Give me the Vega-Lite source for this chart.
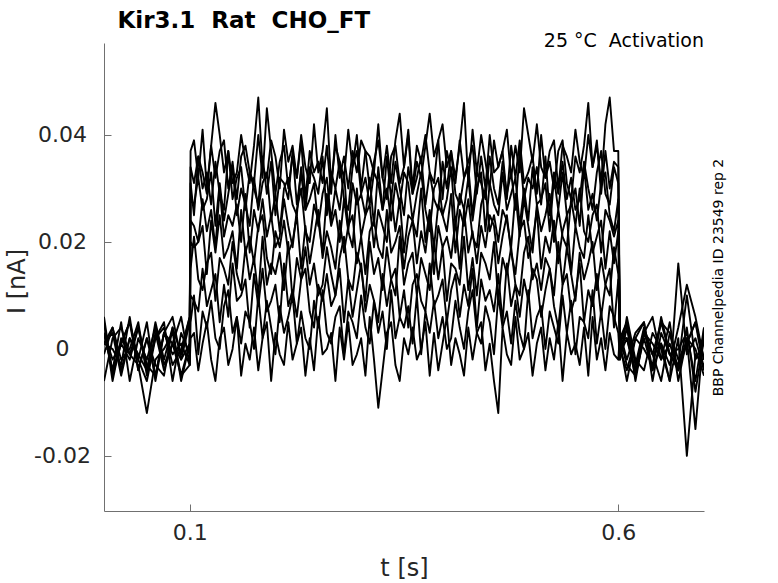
{
  "$schema": "https://vega.github.io/schema/vega-lite/v6.json",
  "width": 600,
  "height": 468,
  "autosize": {"type": "none"},
  "padding": {"left": 104, "top": 43, "right": 74, "bottom": 72},
  "background": "white",
  "data": {"values": [
    {"s":1,"t":0,"i":-0.001},{"s":1,"t":0.01,"i":0.004},{"s":1,"t":0.02,"i":-0.002},{"s":1,"t":0.03,"i":0},{"s":1,"t":0.04,"i":0.005},{"s":1,"t":0.05,"i":-0.005},{"s":1,"t":0.06,"i":0.003},{"s":1,"t":0.07,"i":-0.004},{"s":1,"t":0.08,"i":0.001},{"s":1,"t":0.09,"i":0.006},{"s":1,"t":0.1,"i":-0.003},{"s":1,"t":0.101,"i":0.002},
    {"s":1,"t":0.105,"i":0.003},{"s":1,"t":0.11,"i":-0.004},{"s":1,"t":0.115,"i":0.001},{"s":1,"t":0.12,"i":0.005},{"s":1,"t":0.125,"i":-0.002},{"s":1,"t":0.13,"i":-0.006},{"s":1,"t":0.135,"i":0.002},{"s":1,"t":0.14,"i":0.004},{"s":1,"t":0.145,"i":-0.003},{"s":1,"t":0.15,"i":0},
    {"s":1,"t":0.155,"i":0.006},{"s":1,"t":0.16,"i":-0.005},{"s":1,"t":0.165,"i":0.001},{"s":1,"t":0.17,"i":-0.002},{"s":1,"t":0.175,"i":0.004},{"s":1,"t":0.18,"i":-0.004},{"s":1,"t":0.185,"i":0.002},{"s":1,"t":0.19,"i":0.005},{"s":1,"t":0.195,"i":-0.006},{"s":1,"t":0.2,"i":0.003},
    {"s":1,"t":0.205,"i":-0.001},{"s":1,"t":0.21,"i":-0.003},{"s":1,"t":0.215,"i":0.005},{"s":1,"t":0.22,"i":-0.002},{"s":1,"t":0.225,"i":0.001},{"s":1,"t":0.23,"i":0.004},{"s":1,"t":0.235,"i":-0.005},{"s":1,"t":0.24,"i":0.002},{"s":1,"t":0.245,"i":-0.004},{"s":1,"t":0.25,"i":0.006},
    {"s":1,"t":0.255,"i":-0.001},{"s":1,"t":0.26,"i":0},{"s":1,"t":0.265,"i":0.003},{"s":1,"t":0.27,"i":-0.006},{"s":1,"t":0.275,"i":0.004},{"s":1,"t":0.28,"i":-0.002},{"s":1,"t":0.285,"i":0.005},{"s":1,"t":0.29,"i":-0.003},{"s":1,"t":0.295,"i":-0.001},{"s":1,"t":0.3,"i":0.002},
    {"s":1,"t":0.305,"i":-0.005},{"s":1,"t":0.31,"i":0.006},{"s":1,"t":0.315,"i":-0.002},{"s":1,"t":0.32,"i":-0.011},{"s":1,"t":0.325,"i":-0.004},{"s":1,"t":0.33,"i":0.003},{"s":1,"t":0.335,"i":0.005},{"s":1,"t":0.34,"i":-0.003},{"s":1,"t":0.345,"i":-0.006},{"s":1,"t":0.35,"i":0.002},
    {"s":1,"t":0.355,"i":-0.001},{"s":1,"t":0.36,"i":0.004},{"s":1,"t":0.365,"i":-0.002},{"s":1,"t":0.37,"i":0},{"s":1,"t":0.375,"i":0.005},{"s":1,"t":0.38,"i":-0.005},{"s":1,"t":0.385,"i":0.003},{"s":1,"t":0.39,"i":-0.004},{"s":1,"t":0.395,"i":0.001},{"s":1,"t":0.4,"i":0.006},
    {"s":1,"t":0.405,"i":-0.003},{"s":1,"t":0.41,"i":0.002},{"s":1,"t":0.415,"i":-0.001},{"s":1,"t":0.42,"i":-0.005},{"s":1,"t":0.425,"i":0.004},{"s":1,"t":0.43,"i":-0.002},{"s":1,"t":0.435,"i":0.003},{"s":1,"t":0.44,"i":0.005},{"s":1,"t":0.445,"i":-0.004},{"s":1,"t":0.45,"i":0.001},
    {"s":1,"t":0.455,"i":-0.006},{"s":1,"t":0.46,"i":-0.012},{"s":1,"t":0.465,"i":0.004},{"s":1,"t":0.47,"i":-0.001},{"s":1,"t":0.475,"i":-0.003},{"s":1,"t":0.48,"i":0.006},{"s":1,"t":0.485,"i":-0.002},{"s":1,"t":0.49,"i":0},{"s":1,"t":0.495,"i":0.003},{"s":1,"t":0.5,"i":-0.005},
    {"s":1,"t":0.505,"i":0.001},{"s":1,"t":0.51,"i":0.004},{"s":1,"t":0.515,"i":-0.004},{"s":1,"t":0.52,"i":0.002},{"s":1,"t":0.525,"i":-0.002},{"s":1,"t":0.53,"i":0.005},{"s":1,"t":0.535,"i":-0.006},{"s":1,"t":0.54,"i":0.003},{"s":1,"t":0.545,"i":-0.001},{"s":1,"t":0.55,"i":0.001},
    {"s":1,"t":0.555,"i":-0.003},{"s":1,"t":0.56,"i":0.004},{"s":1,"t":0.565,"i":-0.005},{"s":1,"t":0.57,"i":0.006},{"s":1,"t":0.575,"i":-0.002},{"s":1,"t":0.58,"i":0.002},{"s":1,"t":0.585,"i":-0.004},{"s":1,"t":0.59,"i":0.003},{"s":1,"t":0.595,"i":-0.001},{"s":1,"t":0.6,"i":-0.002},{"s":1,"t":0.602,"i":0.003},
    {"s":1,"t":0.61,"i":-0.002},{"s":1,"t":0.62,"i":0.003},{"s":1,"t":0.63,"i":0.005},{"s":1,"t":0.64,"i":-0.004},{"s":1,"t":0.65,"i":0.001},{"s":1,"t":0.66,"i":-0.006},{"s":1,"t":0.67,"i":0.002},{"s":1,"t":0.68,"i":-0.02},{"s":1,"t":0.69,"i":-0.001},{"s":1,"t":0.7,"i":-0.003},

    {"s":2,"t":0,"i":0.003},{"s":2,"t":0.01,"i":-0.004},{"s":2,"t":0.02,"i":0.005},{"s":2,"t":0.03,"i":-0.006},{"s":2,"t":0.04,"i":0.002},{"s":2,"t":0.05,"i":-0.002},{"s":2,"t":0.06,"i":0.004},{"s":2,"t":0.07,"i":-0.003},{"s":2,"t":0.08,"i":0.001},{"s":2,"t":0.09,"i":-0.005},{"s":2,"t":0.1,"i":-0.003},{"s":2,"t":0.101,"i":0.005},
    {"s":2,"t":0.105,"i":0.01},{"s":2,"t":0.11,"i":-0.001},{"s":2,"t":0.115,"i":0.007},{"s":2,"t":0.12,"i":0.004},{"s":2,"t":0.125,"i":0.009},{"s":2,"t":0.13,"i":0.002},{"s":2,"t":0.135,"i":0},{"s":2,"t":0.14,"i":0.008},{"s":2,"t":0.145,"i":0.011},{"s":2,"t":0.15,"i":0.003},
    {"s":2,"t":0.155,"i":0.006},{"s":2,"t":0.16,"i":0.001},{"s":2,"t":0.165,"i":0.007},{"s":2,"t":0.17,"i":0.005},{"s":2,"t":0.175,"i":0},{"s":2,"t":0.18,"i":0.01},{"s":2,"t":0.185,"i":0.002},{"s":2,"t":0.19,"i":0.009},{"s":2,"t":0.195,"i":0.004},{"s":2,"t":0.2,"i":-0.001},
    {"s":2,"t":0.205,"i":0.008},{"s":2,"t":0.21,"i":0.003},{"s":2,"t":0.215,"i":0.006},{"s":2,"t":0.22,"i":0.01},{"s":2,"t":0.225,"i":0.001},{"s":2,"t":0.23,"i":0.007},{"s":2,"t":0.235,"i":0.002},{"s":2,"t":0.24,"i":0},{"s":2,"t":0.245,"i":0.009},{"s":2,"t":0.25,"i":0.004},
    {"s":2,"t":0.255,"i":0.011},{"s":2,"t":0.26,"i":0.003},{"s":2,"t":0.265,"i":0.001},{"s":2,"t":0.27,"i":0.006},{"s":2,"t":0.275,"i":0.008},{"s":2,"t":0.28,"i":-0.001},{"s":2,"t":0.285,"i":0.007},{"s":2,"t":0.29,"i":0.005},{"s":2,"t":0.295,"i":0.002},{"s":2,"t":0.3,"i":0.01},
    {"s":2,"t":0.305,"i":0.004},{"s":2,"t":0.31,"i":0.001},{"s":2,"t":0.315,"i":0.009},{"s":2,"t":0.32,"i":0.003},{"s":2,"t":0.325,"i":0.007},{"s":2,"t":0.33,"i":0},{"s":2,"t":0.335,"i":0.011},{"s":2,"t":0.34,"i":0.002},{"s":2,"t":0.345,"i":0.006},{"s":2,"t":0.35,"i":0.004},
    {"s":2,"t":0.355,"i":0.008},{"s":2,"t":0.36,"i":0.001},{"s":2,"t":0.365,"i":0.01},{"s":2,"t":0.37,"i":-0.001},{"s":2,"t":0.375,"i":0.007},{"s":2,"t":0.38,"i":0.003},{"s":2,"t":0.385,"i":0.009},{"s":2,"t":0.39,"i":0.002},{"s":2,"t":0.395,"i":0.006},{"s":2,"t":0.4,"i":0},
    {"s":2,"t":0.405,"i":0.002},{"s":2,"t":0.41,"i":0.009},{"s":2,"t":0.415,"i":0.004},{"s":2,"t":0.42,"i":0},{"s":2,"t":0.425,"i":0.007},{"s":2,"t":0.43,"i":0.011},{"s":2,"t":0.435,"i":0.003},{"s":2,"t":0.44,"i":0.001},{"s":2,"t":0.445,"i":0.008},{"s":2,"t":0.45,"i":0.005},
    {"s":2,"t":0.455,"i":-0.001},{"s":2,"t":0.46,"i":0.01},{"s":2,"t":0.465,"i":0.004},{"s":2,"t":0.47,"i":0.007},{"s":2,"t":0.475,"i":0.001},{"s":2,"t":0.48,"i":0.009},{"s":2,"t":0.485,"i":0.003},{"s":2,"t":0.49,"i":0},{"s":2,"t":0.495,"i":0.011},{"s":2,"t":0.5,"i":0.002},
    {"s":2,"t":0.505,"i":0.006},{"s":2,"t":0.51,"i":0.008},{"s":2,"t":0.515,"i":0},{"s":2,"t":0.52,"i":0.007},{"s":2,"t":0.525,"i":0.004},{"s":2,"t":0.53,"i":0.001},{"s":2,"t":0.535,"i":0.01},{"s":2,"t":0.54,"i":0.003},{"s":2,"t":0.545,"i":0.009},{"s":2,"t":0.55,"i":-0.001},
    {"s":2,"t":0.555,"i":0.006},{"s":2,"t":0.56,"i":0.005},{"s":2,"t":0.565,"i":0.002},{"s":2,"t":0.57,"i":0.011},{"s":2,"t":0.575,"i":0.001},{"s":2,"t":0.58,"i":0.007},{"s":2,"t":0.585,"i":0},{"s":2,"t":0.59,"i":0.008},{"s":2,"t":0.595,"i":0.006},{"s":2,"t":0.6,"i":0.003},{"s":2,"t":0.602,"i":-0.002},
    {"s":2,"t":0.61,"i":0.006},{"s":2,"t":0.62,"i":-0.002},{"s":2,"t":0.63,"i":-0.004},{"s":2,"t":0.64,"i":0.003},{"s":2,"t":0.65,"i":0},{"s":2,"t":0.66,"i":-0.006},{"s":2,"t":0.67,"i":0.016},{"s":2,"t":0.68,"i":-0.001},{"s":2,"t":0.69,"i":0.002},{"s":2,"t":0.7,"i":-0.004},

    {"s":3,"t":0,"i":-0.006},{"s":3,"t":0.01,"i":0.002},{"s":3,"t":0.02,"i":0.004},{"s":3,"t":0.03,"i":-0.001},{"s":3,"t":0.04,"i":-0.003},{"s":3,"t":0.05,"i":-0.012},{"s":3,"t":0.06,"i":-0.002},{"s":3,"t":0.07,"i":0},{"s":3,"t":0.08,"i":0.003},{"s":3,"t":0.09,"i":-0.005},{"s":3,"t":0.1,"i":0.001},{"s":3,"t":0.101,"i":0.01},
    {"s":3,"t":0.105,"i":0.009},{"s":3,"t":0.11,"i":0.007},{"s":3,"t":0.115,"i":0.015},{"s":3,"t":0.12,"i":0.008},{"s":3,"t":0.125,"i":0.011},{"s":3,"t":0.13,"i":0.014},{"s":3,"t":0.135,"i":0.005},{"s":3,"t":0.14,"i":0.012},{"s":3,"t":0.145,"i":0.006},{"s":3,"t":0.15,"i":0.016},
    {"s":3,"t":0.155,"i":0.009},{"s":3,"t":0.16,"i":0.01},{"s":3,"t":0.165,"i":0.013},{"s":3,"t":0.17,"i":0.004},{"s":3,"t":0.175,"i":0.014},{"s":3,"t":0.18,"i":0.008},{"s":3,"t":0.185,"i":0.015},{"s":3,"t":0.19,"i":0.007},{"s":3,"t":0.195,"i":0.009},{"s":3,"t":0.2,"i":0.012},
    {"s":3,"t":0.205,"i":0.005},{"s":3,"t":0.21,"i":0.016},{"s":3,"t":0.215,"i":0.008},{"s":3,"t":0.22,"i":0.011},{"s":3,"t":0.225,"i":0.006},{"s":3,"t":0.23,"i":0.013},{"s":3,"t":0.235,"i":0.015},{"s":3,"t":0.24,"i":0.007},{"s":3,"t":0.245,"i":0.004},{"s":3,"t":0.25,"i":0.012},
    {"s":3,"t":0.255,"i":0.009},{"s":3,"t":0.26,"i":0.014},{"s":3,"t":0.265,"i":0.008},{"s":3,"t":0.27,"i":0.01},{"s":3,"t":0.275,"i":0.015},{"s":3,"t":0.28,"i":0.005},{"s":3,"t":0.285,"i":0.013},{"s":3,"t":0.29,"i":0.006},{"s":3,"t":0.295,"i":0.011},{"s":3,"t":0.3,"i":0.016},
    {"s":3,"t":0.305,"i":0.007},{"s":3,"t":0.31,"i":0.012},{"s":3,"t":0.315,"i":0.009},{"s":3,"t":0.32,"i":0.005},{"s":3,"t":0.325,"i":0.014},{"s":3,"t":0.33,"i":0.008},{"s":3,"t":0.335,"i":0.013},{"s":3,"t":0.34,"i":0.015},{"s":3,"t":0.345,"i":0.006},{"s":3,"t":0.35,"i":0.011},
    {"s":3,"t":0.355,"i":0.004},{"s":3,"t":0.36,"i":0.012},{"s":3,"t":0.365,"i":0.014},{"s":3,"t":0.37,"i":0.009},{"s":3,"t":0.375,"i":0.007},{"s":3,"t":0.38,"i":0.016},{"s":3,"t":0.385,"i":0.008},{"s":3,"t":0.39,"i":0.01},{"s":3,"t":0.395,"i":0.013},{"s":3,"t":0.4,"i":0.005},
    {"s":3,"t":0.405,"i":0.011},{"s":3,"t":0.41,"i":0.014},{"s":3,"t":0.415,"i":0.006},{"s":3,"t":0.42,"i":0.012},{"s":3,"t":0.425,"i":0.008},{"s":3,"t":0.43,"i":0.015},{"s":3,"t":0.435,"i":0.004},{"s":3,"t":0.44,"i":0.013},{"s":3,"t":0.445,"i":0.009},{"s":3,"t":0.45,"i":0.011},
    {"s":3,"t":0.455,"i":0.007},{"s":3,"t":0.46,"i":0.014},{"s":3,"t":0.465,"i":0.005},{"s":3,"t":0.47,"i":0.016},{"s":3,"t":0.475,"i":0.008},{"s":3,"t":0.48,"i":0.012},{"s":3,"t":0.485,"i":0.006},{"s":3,"t":0.49,"i":0.013},{"s":3,"t":0.495,"i":0.009},{"s":3,"t":0.5,"i":0.015},
    {"s":3,"t":0.505,"i":0.013},{"s":3,"t":0.51,"i":0.006},{"s":3,"t":0.515,"i":0.011},{"s":3,"t":0.52,"i":0.015},{"s":3,"t":0.525,"i":0.008},{"s":3,"t":0.53,"i":0.004},{"s":3,"t":0.535,"i":0.012},{"s":3,"t":0.54,"i":0.014},{"s":3,"t":0.545,"i":0.007},{"s":3,"t":0.55,"i":0.01},
    {"s":3,"t":0.555,"i":0.016},{"s":3,"t":0.56,"i":0.005},{"s":3,"t":0.565,"i":0.011},{"s":3,"t":0.57,"i":0.008},{"s":3,"t":0.575,"i":0.014},{"s":3,"t":0.58,"i":0.006},{"s":3,"t":0.585,"i":0.012},{"s":3,"t":0.59,"i":0.015},{"s":3,"t":0.595,"i":0.004},{"s":3,"t":0.6,"i":0.013},{"s":3,"t":0.602,"i":0.001},
    {"s":3,"t":0.61,"i":0.005},{"s":3,"t":0.62,"i":-0.006},{"s":3,"t":0.63,"i":0.003},{"s":3,"t":0.64,"i":-0.001},{"s":3,"t":0.65,"i":0.001},{"s":3,"t":0.66,"i":-0.003},{"s":3,"t":0.67,"i":0.004},{"s":3,"t":0.68,"i":0.012},{"s":3,"t":0.69,"i":0.006},{"s":3,"t":0.7,"i":-0.002},

    {"s":4,"t":0,"i":0.001},{"s":4,"t":0.01,"i":0.003},{"s":4,"t":0.02,"i":-0.005},{"s":4,"t":0.03,"i":0.002},{"s":4,"t":0.04,"i":-0.001},{"s":4,"t":0.05,"i":-0.004},{"s":4,"t":0.06,"i":0.005},{"s":4,"t":0.07,"i":-0.002},{"s":4,"t":0.08,"i":0.004},{"s":4,"t":0.09,"i":-0.006},{"s":4,"t":0.1,"i":0.001},{"s":4,"t":0.101,"i":0.015},
    {"s":4,"t":0.105,"i":0.021},{"s":4,"t":0.11,"i":0.013},{"s":4,"t":0.115,"i":0.011},{"s":4,"t":0.12,"i":0.016},{"s":4,"t":0.125,"i":0.018},{"s":4,"t":0.13,"i":0.009},{"s":4,"t":0.135,"i":0.017},{"s":4,"t":0.14,"i":0.015},{"s":4,"t":0.145,"i":0.012},{"s":4,"t":0.15,"i":0.02},
    {"s":4,"t":0.155,"i":0.014},{"s":4,"t":0.16,"i":0.011},{"s":4,"t":0.165,"i":0.019},{"s":4,"t":0.17,"i":0.013},{"s":4,"t":0.175,"i":0.017},{"s":4,"t":0.18,"i":0.01},{"s":4,"t":0.185,"i":0.021},{"s":4,"t":0.19,"i":0.012},{"s":4,"t":0.195,"i":0.016},{"s":4,"t":0.2,"i":0.014},
    {"s":4,"t":0.205,"i":0.018},{"s":4,"t":0.21,"i":0.011},{"s":4,"t":0.215,"i":0.02},{"s":4,"t":0.22,"i":0.009},{"s":4,"t":0.225,"i":0.017},{"s":4,"t":0.23,"i":0.013},{"s":4,"t":0.235,"i":0.019},{"s":4,"t":0.24,"i":0.012},{"s":4,"t":0.245,"i":0.016},{"s":4,"t":0.25,"i":0.01},
    {"s":4,"t":0.255,"i":0.012},{"s":4,"t":0.26,"i":0.019},{"s":4,"t":0.265,"i":0.014},{"s":4,"t":0.27,"i":0.01},{"s":4,"t":0.275,"i":0.017},{"s":4,"t":0.28,"i":0.021},{"s":4,"t":0.285,"i":0.013},{"s":4,"t":0.29,"i":0.011},{"s":4,"t":0.295,"i":0.018},{"s":4,"t":0.3,"i":0.015},
    {"s":4,"t":0.305,"i":0.009},{"s":4,"t":0.31,"i":0.02},{"s":4,"t":0.315,"i":0.014},{"s":4,"t":0.32,"i":0.017},{"s":4,"t":0.325,"i":0.011},{"s":4,"t":0.33,"i":0.019},{"s":4,"t":0.335,"i":0.013},{"s":4,"t":0.34,"i":0.01},{"s":4,"t":0.345,"i":0.021},{"s":4,"t":0.35,"i":0.012},
    {"s":4,"t":0.355,"i":0.016},{"s":4,"t":0.36,"i":0.018},{"s":4,"t":0.365,"i":0.01},{"s":4,"t":0.37,"i":0.017},{"s":4,"t":0.375,"i":0.014},{"s":4,"t":0.38,"i":0.011},{"s":4,"t":0.385,"i":0.02},{"s":4,"t":0.39,"i":0.013},{"s":4,"t":0.395,"i":0.019},{"s":4,"t":0.4,"i":0.009},
    {"s":4,"t":0.405,"i":0.016},{"s":4,"t":0.41,"i":0.015},{"s":4,"t":0.415,"i":0.012},{"s":4,"t":0.42,"i":0.021},{"s":4,"t":0.425,"i":0.011},{"s":4,"t":0.43,"i":0.017},{"s":4,"t":0.435,"i":0.01},{"s":4,"t":0.44,"i":0.018},{"s":4,"t":0.445,"i":0.016},{"s":4,"t":0.45,"i":0.013},
    {"s":4,"t":0.455,"i":0.02},{"s":4,"t":0.46,"i":0.009},{"s":4,"t":0.465,"i":0.017},{"s":4,"t":0.47,"i":0.014},{"s":4,"t":0.475,"i":0.019},{"s":4,"t":0.48,"i":0.012},{"s":4,"t":0.485,"i":0.01},{"s":4,"t":0.49,"i":0.018},{"s":4,"t":0.495,"i":0.021},{"s":4,"t":0.5,"i":0.013},
    {"s":4,"t":0.505,"i":0.016},{"s":4,"t":0.51,"i":0.011},{"s":4,"t":0.515,"i":0.017},{"s":4,"t":0.52,"i":0.015},{"s":4,"t":0.525,"i":0.01},{"s":4,"t":0.53,"i":0.02},{"s":4,"t":0.535,"i":0.012},{"s":4,"t":0.54,"i":0.019},{"s":4,"t":0.545,"i":0.014},{"s":4,"t":0.55,"i":0.009},
    {"s":4,"t":0.555,"i":0.018},{"s":4,"t":0.56,"i":0.013},{"s":4,"t":0.565,"i":0.016},{"s":4,"t":0.57,"i":0.02},{"s":4,"t":0.575,"i":0.011},{"s":4,"t":0.58,"i":0.017},{"s":4,"t":0.585,"i":0.012},{"s":4,"t":0.59,"i":0.01},{"s":4,"t":0.595,"i":0.019},{"s":4,"t":0.6,"i":0.014},{"s":4,"t":0.602,"i":0.002},
    {"s":4,"t":0.61,"i":0.002},{"s":4,"t":0.62,"i":-0.005},{"s":4,"t":0.63,"i":0.003},{"s":4,"t":0.64,"i":0.001},{"s":4,"t":0.65,"i":-0.002},{"s":4,"t":0.66,"i":0.005},{"s":4,"t":0.67,"i":-0.006},{"s":4,"t":0.68,"i":0.002},{"s":4,"t":0.69,"i":-0.015},{"s":4,"t":0.7,"i":0.004},

    {"s":5,"t":0,"i":0.001},{"s":5,"t":0.01,"i":0.004},{"s":5,"t":0.02,"i":-0.004},{"s":5,"t":0.03,"i":0.002},{"s":5,"t":0.04,"i":-0.002},{"s":5,"t":0.05,"i":0.005},{"s":5,"t":0.06,"i":-0.006},{"s":5,"t":0.07,"i":0.003},{"s":5,"t":0.08,"i":-0.001},{"s":5,"t":0.09,"i":0.001},{"s":5,"t":0.1,"i":-0.003},{"s":5,"t":0.101,"i":0.02},
    {"s":5,"t":0.105,"i":0.019},{"s":5,"t":0.11,"i":0.02},{"s":5,"t":0.115,"i":0.023},{"s":5,"t":0.12,"i":0.014},{"s":5,"t":0.125,"i":0.024},{"s":5,"t":0.13,"i":0.018},{"s":5,"t":0.135,"i":0.025},{"s":5,"t":0.14,"i":0.017},{"s":5,"t":0.145,"i":0.019},{"s":5,"t":0.15,"i":0.022},
    {"s":5,"t":0.155,"i":0.015},{"s":5,"t":0.16,"i":0.026},{"s":5,"t":0.165,"i":0.018},{"s":5,"t":0.17,"i":0.021},{"s":5,"t":0.175,"i":0.016},{"s":5,"t":0.18,"i":0.023},{"s":5,"t":0.185,"i":0.025},{"s":5,"t":0.19,"i":0.017},{"s":5,"t":0.195,"i":0.014},{"s":5,"t":0.2,"i":0.022},
    {"s":5,"t":0.205,"i":0.019},{"s":5,"t":0.21,"i":0.024},{"s":5,"t":0.215,"i":0.018},{"s":5,"t":0.22,"i":0.02},{"s":5,"t":0.225,"i":0.025},{"s":5,"t":0.23,"i":0.015},{"s":5,"t":0.235,"i":0.023},{"s":5,"t":0.24,"i":0.016},{"s":5,"t":0.245,"i":0.021},{"s":5,"t":0.25,"i":0.026},
    {"s":5,"t":0.255,"i":0.017},{"s":5,"t":0.26,"i":0.022},{"s":5,"t":0.265,"i":0.019},{"s":5,"t":0.27,"i":0.015},{"s":5,"t":0.275,"i":0.024},{"s":5,"t":0.28,"i":0.018},{"s":5,"t":0.285,"i":0.023},{"s":5,"t":0.29,"i":0.025},{"s":5,"t":0.295,"i":0.016},{"s":5,"t":0.3,"i":0.021},
    {"s":5,"t":0.305,"i":0.014},{"s":5,"t":0.31,"i":0.022},{"s":5,"t":0.315,"i":0.024},{"s":5,"t":0.32,"i":0.019},{"s":5,"t":0.325,"i":0.017},{"s":5,"t":0.33,"i":0.026},{"s":5,"t":0.335,"i":0.018},{"s":5,"t":0.34,"i":0.02},{"s":5,"t":0.345,"i":0.023},{"s":5,"t":0.35,"i":0.015},
    {"s":5,"t":0.355,"i":0.021},{"s":5,"t":0.36,"i":0.024},{"s":5,"t":0.365,"i":0.016},{"s":5,"t":0.37,"i":0.022},{"s":5,"t":0.375,"i":0.018},{"s":5,"t":0.38,"i":0.025},{"s":5,"t":0.385,"i":0.014},{"s":5,"t":0.39,"i":0.023},{"s":5,"t":0.395,"i":0.019},{"s":5,"t":0.4,"i":0.021},
    {"s":5,"t":0.405,"i":0.017},{"s":5,"t":0.41,"i":0.024},{"s":5,"t":0.415,"i":0.015},{"s":5,"t":0.42,"i":0.026},{"s":5,"t":0.425,"i":0.018},{"s":5,"t":0.43,"i":0.022},{"s":5,"t":0.435,"i":0.016},{"s":5,"t":0.44,"i":0.023},{"s":5,"t":0.445,"i":0.019},{"s":5,"t":0.45,"i":0.025},
    {"s":5,"t":0.455,"i":0.023},{"s":5,"t":0.46,"i":0.016},{"s":5,"t":0.465,"i":0.021},{"s":5,"t":0.47,"i":0.025},{"s":5,"t":0.475,"i":0.018},{"s":5,"t":0.48,"i":0.014},{"s":5,"t":0.485,"i":0.022},{"s":5,"t":0.49,"i":0.024},{"s":5,"t":0.495,"i":0.017},{"s":5,"t":0.5,"i":0.02},
    {"s":5,"t":0.505,"i":0.026},{"s":5,"t":0.51,"i":0.015},{"s":5,"t":0.515,"i":0.021},{"s":5,"t":0.52,"i":0.018},{"s":5,"t":0.525,"i":0.024},{"s":5,"t":0.53,"i":0.016},{"s":5,"t":0.535,"i":0.022},{"s":5,"t":0.54,"i":0.025},{"s":5,"t":0.545,"i":0.014},{"s":5,"t":0.55,"i":0.023},
    {"s":5,"t":0.555,"i":0.019},{"s":5,"t":0.56,"i":0.017},{"s":5,"t":0.565,"i":0.025},{"s":5,"t":0.57,"i":0.018},{"s":5,"t":0.575,"i":0.021},{"s":5,"t":0.58,"i":0.024},{"s":5,"t":0.585,"i":0.015},{"s":5,"t":0.59,"i":0.022},{"s":5,"t":0.595,"i":0.016},{"s":5,"t":0.6,"i":0.022},{"s":5,"t":0.602,"i":-0.001},
    {"s":5,"t":0.61,"i":0.002},{"s":5,"t":0.62,"i":-0.004},{"s":5,"t":0.63,"i":0.003},{"s":5,"t":0.64,"i":-0.001},{"s":5,"t":0.65,"i":0.005},{"s":5,"t":0.66,"i":0.003},{"s":5,"t":0.67,"i":-0.004},{"s":5,"t":0.68,"i":0.001},{"s":5,"t":0.69,"i":0.005},{"s":5,"t":0.7,"i":-0.002},

    {"s":6,"t":0,"i":0.001},{"s":6,"t":0.01,"i":0},{"s":6,"t":0.02,"i":-0.003},{"s":6,"t":0.03,"i":0.006},{"s":6,"t":0.04,"i":-0.004},{"s":6,"t":0.05,"i":0.002},{"s":6,"t":0.06,"i":-0.005},{"s":6,"t":0.07,"i":0.003},{"s":6,"t":0.08,"i":0.001},{"s":6,"t":0.09,"i":-0.002},{"s":6,"t":0.1,"i":0.005},{"s":6,"t":0.101,"i":0.024},
    {"s":6,"t":0.105,"i":0.023},{"s":6,"t":0.11,"i":0.02},{"s":6,"t":0.115,"i":0.028},{"s":6,"t":0.12,"i":0.022},{"s":6,"t":0.125,"i":0.026},{"s":6,"t":0.13,"i":0.019},{"s":6,"t":0.135,"i":0.03},{"s":6,"t":0.14,"i":0.021},{"s":6,"t":0.145,"i":0.025},{"s":6,"t":0.15,"i":0.023},
    {"s":6,"t":0.155,"i":0.027},{"s":6,"t":0.16,"i":0.02},{"s":6,"t":0.165,"i":0.029},{"s":6,"t":0.17,"i":0.018},{"s":6,"t":0.175,"i":0.026},{"s":6,"t":0.18,"i":0.022},{"s":6,"t":0.185,"i":0.028},{"s":6,"t":0.19,"i":0.021},{"s":6,"t":0.195,"i":0.025},{"s":6,"t":0.2,"i":0.019},
    {"s":6,"t":0.205,"i":0.021},{"s":6,"t":0.21,"i":0.028},{"s":6,"t":0.215,"i":0.023},{"s":6,"t":0.22,"i":0.019},{"s":6,"t":0.225,"i":0.026},{"s":6,"t":0.23,"i":0.03},{"s":6,"t":0.235,"i":0.022},{"s":6,"t":0.24,"i":0.02},{"s":6,"t":0.245,"i":0.027},{"s":6,"t":0.25,"i":0.024},
    {"s":6,"t":0.255,"i":0.018},{"s":6,"t":0.26,"i":0.029},{"s":6,"t":0.265,"i":0.023},{"s":6,"t":0.27,"i":0.026},{"s":6,"t":0.275,"i":0.02},{"s":6,"t":0.28,"i":0.028},{"s":6,"t":0.285,"i":0.022},{"s":6,"t":0.29,"i":0.019},{"s":6,"t":0.295,"i":0.03},{"s":6,"t":0.3,"i":0.021},
    {"s":6,"t":0.305,"i":0.025},{"s":6,"t":0.31,"i":0.027},{"s":6,"t":0.315,"i":0.019},{"s":6,"t":0.32,"i":0.026},{"s":6,"t":0.325,"i":0.023},{"s":6,"t":0.33,"i":0.02},{"s":6,"t":0.335,"i":0.029},{"s":6,"t":0.34,"i":0.022},{"s":6,"t":0.345,"i":0.028},{"s":6,"t":0.35,"i":0.018},
    {"s":6,"t":0.355,"i":0.025},{"s":6,"t":0.36,"i":0.024},{"s":6,"t":0.365,"i":0.021},{"s":6,"t":0.37,"i":0.03},{"s":6,"t":0.375,"i":0.02},{"s":6,"t":0.38,"i":0.026},{"s":6,"t":0.385,"i":0.019},{"s":6,"t":0.39,"i":0.027},{"s":6,"t":0.395,"i":0.025},{"s":6,"t":0.4,"i":0.022},
    {"s":6,"t":0.405,"i":0.029},{"s":6,"t":0.41,"i":0.018},{"s":6,"t":0.415,"i":0.026},{"s":6,"t":0.42,"i":0.023},{"s":6,"t":0.425,"i":0.028},{"s":6,"t":0.43,"i":0.021},{"s":6,"t":0.435,"i":0.019},{"s":6,"t":0.44,"i":0.027},{"s":6,"t":0.445,"i":0.03},{"s":6,"t":0.45,"i":0.022},
    {"s":6,"t":0.455,"i":0.025},{"s":6,"t":0.46,"i":0.02},{"s":6,"t":0.465,"i":0.026},{"s":6,"t":0.47,"i":0.024},{"s":6,"t":0.475,"i":0.019},{"s":6,"t":0.48,"i":0.029},{"s":6,"t":0.485,"i":0.021},{"s":6,"t":0.49,"i":0.028},{"s":6,"t":0.495,"i":0.023},{"s":6,"t":0.5,"i":0.018},
    {"s":6,"t":0.505,"i":0.027},{"s":6,"t":0.51,"i":0.022},{"s":6,"t":0.515,"i":0.025},{"s":6,"t":0.52,"i":0.029},{"s":6,"t":0.525,"i":0.02},{"s":6,"t":0.53,"i":0.026},{"s":6,"t":0.535,"i":0.021},{"s":6,"t":0.54,"i":0.019},{"s":6,"t":0.545,"i":0.028},{"s":6,"t":0.55,"i":0.023},
    {"s":6,"t":0.555,"i":0.03},{"s":6,"t":0.56,"i":0.022},{"s":6,"t":0.565,"i":0.02},{"s":6,"t":0.57,"i":0.025},{"s":6,"t":0.575,"i":0.027},{"s":6,"t":0.58,"i":0.018},{"s":6,"t":0.585,"i":0.026},{"s":6,"t":0.59,"i":0.024},{"s":6,"t":0.595,"i":0.021},{"s":6,"t":0.6,"i":0.024},{"s":6,"t":0.602,"i":0.002},
    {"s":6,"t":0.61,"i":-0.003},{"s":6,"t":0.62,"i":-0.005},{"s":6,"t":0.63,"i":0.003},{"s":6,"t":0.64,"i":0.006},{"s":6,"t":0.65,"i":-0.002},{"s":6,"t":0.66,"i":0.001},{"s":6,"t":0.67,"i":-0.004},{"s":6,"t":0.68,"i":0.002},{"s":6,"t":0.69,"i":0},{"s":6,"t":0.7,"i":-0.005},

    {"s":7,"t":0,"i":0.003},{"s":7,"t":0.01,"i":-0.004},{"s":7,"t":0.02,"i":0.001},{"s":7,"t":0.03,"i":0.005},{"s":7,"t":0.04,"i":-0.002},{"s":7,"t":0.05,"i":-0.006},{"s":7,"t":0.06,"i":0.002},{"s":7,"t":0.07,"i":0.004},{"s":7,"t":0.08,"i":-0.003},{"s":7,"t":0.09,"i":0},{"s":7,"t":0.1,"i":0.006},{"s":7,"t":0.101,"i":0.028},
    {"s":7,"t":0.105,"i":0.027},{"s":7,"t":0.11,"i":0.032},{"s":7,"t":0.115,"i":0.026},{"s":7,"t":0.12,"i":0.028},{"s":7,"t":0.125,"i":0.033},{"s":7,"t":0.13,"i":0.023},{"s":7,"t":0.135,"i":0.031},{"s":7,"t":0.14,"i":0.024},{"s":7,"t":0.145,"i":0.029},{"s":7,"t":0.15,"i":0.034},
    {"s":7,"t":0.155,"i":0.025},{"s":7,"t":0.16,"i":0.03},{"s":7,"t":0.165,"i":0.027},{"s":7,"t":0.17,"i":0.023},{"s":7,"t":0.175,"i":0.032},{"s":7,"t":0.18,"i":0.026},{"s":7,"t":0.185,"i":0.031},{"s":7,"t":0.19,"i":0.033},{"s":7,"t":0.195,"i":0.024},{"s":7,"t":0.2,"i":0.029},
    {"s":7,"t":0.205,"i":0.022},{"s":7,"t":0.21,"i":0.03},{"s":7,"t":0.215,"i":0.032},{"s":7,"t":0.22,"i":0.027},{"s":7,"t":0.225,"i":0.025},{"s":7,"t":0.23,"i":0.034},{"s":7,"t":0.235,"i":0.026},{"s":7,"t":0.24,"i":0.028},{"s":7,"t":0.245,"i":0.031},{"s":7,"t":0.25,"i":0.023},
    {"s":7,"t":0.255,"i":0.029},{"s":7,"t":0.26,"i":0.032},{"s":7,"t":0.265,"i":0.024},{"s":7,"t":0.27,"i":0.03},{"s":7,"t":0.275,"i":0.026},{"s":7,"t":0.28,"i":0.033},{"s":7,"t":0.285,"i":0.022},{"s":7,"t":0.29,"i":0.031},{"s":7,"t":0.295,"i":0.027},{"s":7,"t":0.3,"i":0.029},
    {"s":7,"t":0.305,"i":0.025},{"s":7,"t":0.31,"i":0.032},{"s":7,"t":0.315,"i":0.023},{"s":7,"t":0.32,"i":0.034},{"s":7,"t":0.325,"i":0.026},{"s":7,"t":0.33,"i":0.03},{"s":7,"t":0.335,"i":0.024},{"s":7,"t":0.34,"i":0.031},{"s":7,"t":0.345,"i":0.027},{"s":7,"t":0.35,"i":0.033},
    {"s":7,"t":0.355,"i":0.031},{"s":7,"t":0.36,"i":0.024},{"s":7,"t":0.365,"i":0.029},{"s":7,"t":0.37,"i":0.033},{"s":7,"t":0.375,"i":0.026},{"s":7,"t":0.38,"i":0.022},{"s":7,"t":0.385,"i":0.03},{"s":7,"t":0.39,"i":0.032},{"s":7,"t":0.395,"i":0.025},{"s":7,"t":0.4,"i":0.028},
    {"s":7,"t":0.405,"i":0.034},{"s":7,"t":0.41,"i":0.023},{"s":7,"t":0.415,"i":0.029},{"s":7,"t":0.42,"i":0.026},{"s":7,"t":0.425,"i":0.032},{"s":7,"t":0.43,"i":0.024},{"s":7,"t":0.435,"i":0.03},{"s":7,"t":0.44,"i":0.033},{"s":7,"t":0.445,"i":0.022},{"s":7,"t":0.45,"i":0.031},
    {"s":7,"t":0.455,"i":0.027},{"s":7,"t":0.46,"i":0.025},{"s":7,"t":0.465,"i":0.033},{"s":7,"t":0.47,"i":0.026},{"s":7,"t":0.475,"i":0.029},{"s":7,"t":0.48,"i":0.032},{"s":7,"t":0.485,"i":0.023},{"s":7,"t":0.49,"i":0.03},{"s":7,"t":0.495,"i":0.024},{"s":7,"t":0.5,"i":0.034},
    {"s":7,"t":0.505,"i":0.027},{"s":7,"t":0.51,"i":0.028},{"s":7,"t":0.515,"i":0.031},{"s":7,"t":0.52,"i":0.022},{"s":7,"t":0.525,"i":0.032},{"s":7,"t":0.53,"i":0.026},{"s":7,"t":0.535,"i":0.033},{"s":7,"t":0.54,"i":0.025},{"s":7,"t":0.545,"i":0.027},{"s":7,"t":0.55,"i":0.03},
    {"s":7,"t":0.555,"i":0.023},{"s":7,"t":0.56,"i":0.034},{"s":7,"t":0.565,"i":0.026},{"s":7,"t":0.57,"i":0.029},{"s":7,"t":0.575,"i":0.024},{"s":7,"t":0.58,"i":0.031},{"s":7,"t":0.585,"i":0.033},{"s":7,"t":0.59,"i":0.025},{"s":7,"t":0.595,"i":0.022},{"s":7,"t":0.6,"i":0.028},{"s":7,"t":0.602,"i":0},
    {"s":7,"t":0.61,"i":-0.004},{"s":7,"t":0.62,"i":0.002},{"s":7,"t":0.63,"i":0.005},{"s":7,"t":0.64,"i":-0.006},{"s":7,"t":0.65,"i":0.003},{"s":7,"t":0.66,"i":-0.001},{"s":7,"t":0.67,"i":-0.003},{"s":7,"t":0.68,"i":0.01},{"s":7,"t":0.69,"i":-0.002},{"s":7,"t":0.7,"i":0.001},

    {"s":8,"t":0,"i":0.003},{"s":8,"t":0.01,"i":-0.002},{"s":8,"t":0.02,"i":0.001},{"s":8,"t":0.03,"i":0.005},{"s":8,"t":0.04,"i":-0.004},{"s":8,"t":0.05,"i":0.002},{"s":8,"t":0.06,"i":-0.003},{"s":8,"t":0.07,"i":-0.005},{"s":8,"t":0.08,"i":0.004},{"s":8,"t":0.09,"i":-0.001},{"s":8,"t":0.1,"i":0.006},{"s":8,"t":0.101,"i":0.031},
    {"s":8,"t":0.105,"i":0.025},{"s":8,"t":0.11,"i":0.036},{"s":8,"t":0.115,"i":0.03},{"s":8,"t":0.12,"i":0.033},{"s":8,"t":0.125,"i":0.027},{"s":8,"t":0.13,"i":0.035},{"s":8,"t":0.135,"i":0.029},{"s":8,"t":0.14,"i":0.026},{"s":8,"t":0.145,"i":0.037},{"s":8,"t":0.15,"i":0.028},
    {"s":8,"t":0.155,"i":0.032},{"s":8,"t":0.16,"i":0.034},{"s":8,"t":0.165,"i":0.026},{"s":8,"t":0.17,"i":0.033},{"s":8,"t":0.175,"i":0.03},{"s":8,"t":0.18,"i":0.027},{"s":8,"t":0.185,"i":0.036},{"s":8,"t":0.19,"i":0.029},{"s":8,"t":0.195,"i":0.035},{"s":8,"t":0.2,"i":0.025},
    {"s":8,"t":0.205,"i":0.032},{"s":8,"t":0.21,"i":0.031},{"s":8,"t":0.215,"i":0.028},{"s":8,"t":0.22,"i":0.037},{"s":8,"t":0.225,"i":0.027},{"s":8,"t":0.23,"i":0.033},{"s":8,"t":0.235,"i":0.026},{"s":8,"t":0.24,"i":0.034},{"s":8,"t":0.245,"i":0.032},{"s":8,"t":0.25,"i":0.029},
    {"s":8,"t":0.255,"i":0.036},{"s":8,"t":0.26,"i":0.025},{"s":8,"t":0.265,"i":0.033},{"s":8,"t":0.27,"i":0.03},{"s":8,"t":0.275,"i":0.035},{"s":8,"t":0.28,"i":0.028},{"s":8,"t":0.285,"i":0.026},{"s":8,"t":0.29,"i":0.034},{"s":8,"t":0.295,"i":0.037},{"s":8,"t":0.3,"i":0.029},
    {"s":8,"t":0.305,"i":0.032},{"s":8,"t":0.31,"i":0.027},{"s":8,"t":0.315,"i":0.033},{"s":8,"t":0.32,"i":0.031},{"s":8,"t":0.325,"i":0.026},{"s":8,"t":0.33,"i":0.036},{"s":8,"t":0.335,"i":0.028},{"s":8,"t":0.34,"i":0.035},{"s":8,"t":0.345,"i":0.03},{"s":8,"t":0.35,"i":0.025},
    {"s":8,"t":0.355,"i":0.034},{"s":8,"t":0.36,"i":0.029},{"s":8,"t":0.365,"i":0.032},{"s":8,"t":0.37,"i":0.036},{"s":8,"t":0.375,"i":0.027},{"s":8,"t":0.38,"i":0.033},{"s":8,"t":0.385,"i":0.028},{"s":8,"t":0.39,"i":0.026},{"s":8,"t":0.395,"i":0.035},{"s":8,"t":0.4,"i":0.03},
    {"s":8,"t":0.405,"i":0.037},{"s":8,"t":0.41,"i":0.029},{"s":8,"t":0.415,"i":0.027},{"s":8,"t":0.42,"i":0.032},{"s":8,"t":0.425,"i":0.034},{"s":8,"t":0.43,"i":0.025},{"s":8,"t":0.435,"i":0.033},{"s":8,"t":0.44,"i":0.031},{"s":8,"t":0.445,"i":0.028},{"s":8,"t":0.45,"i":0.036},
    {"s":8,"t":0.455,"i":0.03},{"s":8,"t":0.46,"i":0.027},{"s":8,"t":0.465,"i":0.035},{"s":8,"t":0.47,"i":0.029},{"s":8,"t":0.475,"i":0.033},{"s":8,"t":0.48,"i":0.026},{"s":8,"t":0.485,"i":0.037},{"s":8,"t":0.49,"i":0.028},{"s":8,"t":0.495,"i":0.032},{"s":8,"t":0.5,"i":0.03},
    {"s":8,"t":0.505,"i":0.034},{"s":8,"t":0.51,"i":0.027},{"s":8,"t":0.515,"i":0.036},{"s":8,"t":0.52,"i":0.025},{"s":8,"t":0.525,"i":0.033},{"s":8,"t":0.53,"i":0.029},{"s":8,"t":0.535,"i":0.035},{"s":8,"t":0.54,"i":0.028},{"s":8,"t":0.545,"i":0.032},{"s":8,"t":0.55,"i":0.026},
    {"s":8,"t":0.555,"i":0.028},{"s":8,"t":0.56,"i":0.035},{"s":8,"t":0.565,"i":0.03},{"s":8,"t":0.57,"i":0.026},{"s":8,"t":0.575,"i":0.033},{"s":8,"t":0.58,"i":0.037},{"s":8,"t":0.585,"i":0.029},{"s":8,"t":0.59,"i":0.027},{"s":8,"t":0.595,"i":0.034},{"s":8,"t":0.6,"i":0.031},{"s":8,"t":0.602,"i":0.001},
    {"s":8,"t":0.61,"i":-0.006},{"s":8,"t":0.62,"i":0.002},{"s":8,"t":0.63,"i":0},{"s":8,"t":0.64,"i":-0.003},{"s":8,"t":0.65,"i":0.005},{"s":8,"t":0.66,"i":-0.001},{"s":8,"t":0.67,"i":-0.004},{"s":8,"t":0.68,"i":0.004},{"s":8,"t":0.69,"i":-0.008},{"s":8,"t":0.7,"i":0.002},

    {"s":9,"t":0,"i":0.006},{"s":9,"t":0.01,"i":-0.005},{"s":9,"t":0.02,"i":0.001},{"s":9,"t":0.03,"i":-0.002},{"s":9,"t":0.04,"i":0.004},{"s":9,"t":0.05,"i":-0.004},{"s":9,"t":0.06,"i":0.002},{"s":9,"t":0.07,"i":0.005},{"s":9,"t":0.08,"i":-0.006},{"s":9,"t":0.09,"i":0.003},{"s":9,"t":0.1,"i":-0.001},{"s":9,"t":0.101,"i":0.034},
    {"s":9,"t":0.105,"i":0.031},{"s":9,"t":0.11,"i":0.036},{"s":9,"t":0.115,"i":0.033},{"s":9,"t":0.12,"i":0.029},{"s":9,"t":0.125,"i":0.038},{"s":9,"t":0.13,"i":0.032},{"s":9,"t":0.135,"i":0.037},{"s":9,"t":0.14,"i":0.039},{"s":9,"t":0.145,"i":0.03},{"s":9,"t":0.15,"i":0.035},
    {"s":9,"t":0.155,"i":0.028},{"s":9,"t":0.16,"i":0.036},{"s":9,"t":0.165,"i":0.038},{"s":9,"t":0.17,"i":0.033},{"s":9,"t":0.175,"i":0.031},{"s":9,"t":0.18,"i":0.04},{"s":9,"t":0.185,"i":0.032},{"s":9,"t":0.19,"i":0.045},{"s":9,"t":0.195,"i":0.037},{"s":9,"t":0.2,"i":0.029},
    {"s":9,"t":0.205,"i":0.035},{"s":9,"t":0.21,"i":0.038},{"s":9,"t":0.215,"i":0.03},{"s":9,"t":0.22,"i":0.036},{"s":9,"t":0.225,"i":0.032},{"s":9,"t":0.23,"i":0.039},{"s":9,"t":0.235,"i":0.028},{"s":9,"t":0.24,"i":0.037},{"s":9,"t":0.245,"i":0.033},{"s":9,"t":0.25,"i":0.035},
    {"s":9,"t":0.255,"i":0.031},{"s":9,"t":0.26,"i":0.038},{"s":9,"t":0.265,"i":0.029},{"s":9,"t":0.27,"i":0.04},{"s":9,"t":0.275,"i":0.032},{"s":9,"t":0.28,"i":0.036},{"s":9,"t":0.285,"i":0.03},{"s":9,"t":0.29,"i":0.037},{"s":9,"t":0.295,"i":0.033},{"s":9,"t":0.3,"i":0.039},
    {"s":9,"t":0.305,"i":0.037},{"s":9,"t":0.31,"i":0.03},{"s":9,"t":0.315,"i":0.035},{"s":9,"t":0.32,"i":0.039},{"s":9,"t":0.325,"i":0.032},{"s":9,"t":0.33,"i":0.028},{"s":9,"t":0.335,"i":0.036},{"s":9,"t":0.34,"i":0.038},{"s":9,"t":0.345,"i":0.031},{"s":9,"t":0.35,"i":0.034},
    {"s":9,"t":0.355,"i":0.04},{"s":9,"t":0.36,"i":0.029},{"s":9,"t":0.365,"i":0.035},{"s":9,"t":0.37,"i":0.032},{"s":9,"t":0.375,"i":0.038},{"s":9,"t":0.38,"i":0.044},{"s":9,"t":0.385,"i":0.036},{"s":9,"t":0.39,"i":0.039},{"s":9,"t":0.395,"i":0.028},{"s":9,"t":0.4,"i":0.037},
    {"s":9,"t":0.405,"i":0.033},{"s":9,"t":0.41,"i":0.031},{"s":9,"t":0.415,"i":0.039},{"s":9,"t":0.42,"i":0.032},{"s":9,"t":0.425,"i":0.035},{"s":9,"t":0.43,"i":0.038},{"s":9,"t":0.435,"i":0.029},{"s":9,"t":0.44,"i":0.036},{"s":9,"t":0.445,"i":0.03},{"s":9,"t":0.45,"i":0.04},
    {"s":9,"t":0.455,"i":0.033},{"s":9,"t":0.46,"i":0.034},{"s":9,"t":0.465,"i":0.037},{"s":9,"t":0.47,"i":0.028},{"s":9,"t":0.475,"i":0.038},{"s":9,"t":0.48,"i":0.032},{"s":9,"t":0.485,"i":0.039},{"s":9,"t":0.49,"i":0.031},{"s":9,"t":0.495,"i":0.033},{"s":9,"t":0.5,"i":0.036},
    {"s":9,"t":0.505,"i":0.029},{"s":9,"t":0.51,"i":0.04},{"s":9,"t":0.515,"i":0.032},{"s":9,"t":0.52,"i":0.035},{"s":9,"t":0.525,"i":0.03},{"s":9,"t":0.53,"i":0.037},{"s":9,"t":0.535,"i":0.039},{"s":9,"t":0.54,"i":0.031},{"s":9,"t":0.545,"i":0.028},{"s":9,"t":0.55,"i":0.036},
    {"s":9,"t":0.555,"i":0.033},{"s":9,"t":0.56,"i":0.038},{"s":9,"t":0.565,"i":0.046},{"s":9,"t":0.57,"i":0.034},{"s":9,"t":0.575,"i":0.039},{"s":9,"t":0.58,"i":0.029},{"s":9,"t":0.585,"i":0.037},{"s":9,"t":0.59,"i":0.03},{"s":9,"t":0.595,"i":0.035},{"s":9,"t":0.6,"i":0.034},{"s":9,"t":0.602,"i":-0.002},
    {"s":9,"t":0.61,"i":0.004},{"s":9,"t":0.62,"i":-0.005},{"s":9,"t":0.63,"i":0.002},{"s":9,"t":0.64,"i":-0.004},{"s":9,"t":0.65,"i":0.006},{"s":9,"t":0.66,"i":-0.001},{"s":9,"t":0.67,"i":0},{"s":9,"t":0.68,"i":0.003},{"s":9,"t":0.69,"i":-0.006},{"s":9,"t":0.7,"i":0.004},

    {"s":10,"t":0,"i":0.005},{"s":10,"t":0.01,"i":-0.006},{"s":10,"t":0.02,"i":0.002},{"s":10,"t":0.03,"i":-0.001},{"s":10,"t":0.04,"i":0.004},{"s":10,"t":0.05,"i":-0.003},{"s":10,"t":0.06,"i":-0.005},{"s":10,"t":0.07,"i":0.003},{"s":10,"t":0.08,"i":0.006},{"s":10,"t":0.09,"i":-0.002},{"s":10,"t":0.1,"i":0.001},{"s":10,"t":0.101,"i":0.037},
    {"s":10,"t":0.105,"i":0.039},{"s":10,"t":0.11,"i":0.032},{"s":10,"t":0.115,"i":0.041},{"s":10,"t":0.12,"i":0.03},{"s":10,"t":0.125,"i":0.038},{"s":10,"t":0.13,"i":0.046},{"s":10,"t":0.135,"i":0.04},{"s":10,"t":0.14,"i":0.033},{"s":10,"t":0.145,"i":0.037},{"s":10,"t":0.15,"i":0.031},
    {"s":10,"t":0.155,"i":0.033},{"s":10,"t":0.16,"i":0.04},{"s":10,"t":0.165,"i":0.035},{"s":10,"t":0.17,"i":0.031},{"s":10,"t":0.175,"i":0.038},{"s":10,"t":0.18,"i":0.047},{"s":10,"t":0.185,"i":0.034},{"s":10,"t":0.19,"i":0.032},{"s":10,"t":0.195,"i":0.039},{"s":10,"t":0.2,"i":0.036},
    {"s":10,"t":0.205,"i":0.03},{"s":10,"t":0.21,"i":0.041},{"s":10,"t":0.215,"i":0.035},{"s":10,"t":0.22,"i":0.038},{"s":10,"t":0.225,"i":0.032},{"s":10,"t":0.23,"i":0.04},{"s":10,"t":0.235,"i":0.034},{"s":10,"t":0.24,"i":0.031},{"s":10,"t":0.245,"i":0.042},{"s":10,"t":0.25,"i":0.033},
    {"s":10,"t":0.255,"i":0.037},{"s":10,"t":0.26,"i":0.045},{"s":10,"t":0.265,"i":0.031},{"s":10,"t":0.27,"i":0.038},{"s":10,"t":0.275,"i":0.035},{"s":10,"t":0.28,"i":0.032},{"s":10,"t":0.285,"i":0.041},{"s":10,"t":0.29,"i":0.034},{"s":10,"t":0.295,"i":0.04},{"s":10,"t":0.3,"i":0.03},
    {"s":10,"t":0.305,"i":0.037},{"s":10,"t":0.31,"i":0.036},{"s":10,"t":0.315,"i":0.033},{"s":10,"t":0.32,"i":0.042},{"s":10,"t":0.325,"i":0.032},{"s":10,"t":0.33,"i":0.038},{"s":10,"t":0.335,"i":0.031},{"s":10,"t":0.34,"i":0.039},{"s":10,"t":0.345,"i":0.044},{"s":10,"t":0.35,"i":0.034},
    {"s":10,"t":0.355,"i":0.041},{"s":10,"t":0.36,"i":0.03},{"s":10,"t":0.365,"i":0.038},{"s":10,"t":0.37,"i":0.035},{"s":10,"t":0.375,"i":0.04},{"s":10,"t":0.38,"i":0.033},{"s":10,"t":0.385,"i":0.031},{"s":10,"t":0.39,"i":0.039},{"s":10,"t":0.395,"i":0.042},{"s":10,"t":0.4,"i":0.034},
    {"s":10,"t":0.405,"i":0.037},{"s":10,"t":0.41,"i":0.032},{"s":10,"t":0.415,"i":0.038},{"s":10,"t":0.42,"i":0.046},{"s":10,"t":0.425,"i":0.031},{"s":10,"t":0.43,"i":0.041},{"s":10,"t":0.435,"i":0.033},{"s":10,"t":0.44,"i":0.04},{"s":10,"t":0.445,"i":0.035},{"s":10,"t":0.45,"i":0.03},
    {"s":10,"t":0.455,"i":0.039},{"s":10,"t":0.46,"i":0.034},{"s":10,"t":0.465,"i":0.037},{"s":10,"t":0.47,"i":0.041},{"s":10,"t":0.475,"i":0.032},{"s":10,"t":0.48,"i":0.038},{"s":10,"t":0.485,"i":0.033},{"s":10,"t":0.49,"i":0.045},{"s":10,"t":0.495,"i":0.04},{"s":10,"t":0.5,"i":0.035},
    {"s":10,"t":0.505,"i":0.042},{"s":10,"t":0.51,"i":0.034},{"s":10,"t":0.515,"i":0.032},{"s":10,"t":0.52,"i":0.037},{"s":10,"t":0.525,"i":0.039},{"s":10,"t":0.53,"i":0.03},{"s":10,"t":0.535,"i":0.038},{"s":10,"t":0.54,"i":0.036},{"s":10,"t":0.545,"i":0.033},{"s":10,"t":0.55,"i":0.041},
    {"s":10,"t":0.555,"i":0.035},{"s":10,"t":0.56,"i":0.032},{"s":10,"t":0.565,"i":0.04},{"s":10,"t":0.57,"i":0.034},{"s":10,"t":0.575,"i":0.038},{"s":10,"t":0.58,"i":0.031},{"s":10,"t":0.585,"i":0.042},{"s":10,"t":0.59,"i":0.047},{"s":10,"t":0.595,"i":0.037},{"s":10,"t":0.6,"i":0.037},{"s":10,"t":0.602,"i":0.002},
    {"s":10,"t":0.61,"i":0.005},{"s":10,"t":0.62,"i":-0.003},{"s":10,"t":0.63,"i":0.004},{"s":10,"t":0.64,"i":-0.001},{"s":10,"t":0.65,"i":-0.006},{"s":10,"t":0.66,"i":0.003},{"s":10,"t":0.67,"i":-0.002},{"s":10,"t":0.68,"i":0.001},{"s":10,"t":0.69,"i":0.005},{"s":10,"t":0.7,"i":-0.004}
  ]},
  "layer": [
    {
      "mark": {"type": "line", "color": "#000000", "strokeWidth": 1.9, "strokeJoin": "round", "clip": true},
      "encoding": {
        "x": {
          "field": "t", "type": "quantitative",
          "scale": {"domain": [0, 0.7], "nice": false, "zero": false},
          "axis": {"values": [0.1, 0.6], "format": ".1f", "title": "t [s]", "grid": false,
                   "labelFont": "DejaVu Sans", "labelFontSize": 22, "labelColor": "#262626", "labelPadding": 18,
                   "tickSize": -7, "tickColor": "#707070", "domainColor": "#707070",
                   "titleFont": "DejaVu Sans", "titleFontSize": 24, "titleFontWeight": "normal", "titleColor": "#262626",
                   "titleX": 300, "titleY": 57, "titleAlign": "center", "titleBaseline": "middle"}
        },
        "y": {
          "field": "i", "type": "quantitative",
          "scale": {"domain": [-0.0303, 0.0572], "nice": false, "zero": false},
          "axis": {"values": [-0.02, 0, 0.02, 0.04], "grid": false,
                   "labelExpr": "datum.value === 0 ? '0' : (datum.value < 0 ? '-' + format(-datum.value, '.2f') : format(datum.value, '.2f'))",
                   "labelFont": "DejaVu Sans", "labelFontSize": 22, "labelColor": "#262626", "labelAlign": "center", "labelBaseline": "middle", "labelPadding": 49,
                   "tickSize": -7, "tickColor": "#707070", "domainColor": "#707070",
                   "title": "I [nA]", "titleFont": "DejaVu Sans", "titleFontSize": 24, "titleFontWeight": "normal", "titleColor": "#262626",
                   "titleAngle": 270, "titleX": -87, "titleY": 238, "titleAlign": "center", "titleBaseline": "middle"}
        },
        "detail": {"field": "s"}
      }
    },
    {
      "data": {"values": [{}]},
      "mark": {"type": "point", "opacity": 0},
      "encoding": {
        "x": {"datum": 0.35, "type": "quantitative",
              "scale": {"domain": [0, 0.7], "nice": false, "zero": false},
              "axis": {"orient": "top", "domain": false, "ticks": false, "labels": false, "grid": false,
                       "title": "Kir3.1\u00a0 Rat\u00a0 CHO_FT", "titleFont": "DejaVu Sans", "titleFontSize": 23, "titleFontWeight": "bold", "titleColor": "#000000",
                       "titleX": 13, "titleY": -16, "titleAlign": "left", "titleBaseline": "alphabetic"}},
        "y": {"datum": 0, "type": "quantitative",
              "scale": {"domain": [-0.0303, 0.0572], "nice": false, "zero": false},
              "axis": {"orient": "right", "domain": false, "ticks": false, "labels": false, "grid": false,
                       "title": "BBP Channelpedia ID 23549 rep 2", "titleFont": "DejaVu Sans", "titleFontSize": 14, "titleFontWeight": "normal", "titleColor": "#000000",
                       "titleAngle": 270, "titleX": 14, "titleY": 234, "titleAlign": "center", "titleBaseline": "middle"}}
      }
    },
    {
      "data": {"values": [{}]},
      "mark": {"type": "text", "text": "25 °C\u00a0 Activation", "align": "right", "baseline": "alphabetic", "dy": 4, "font": "DejaVu Sans", "fontSize": 19, "color": "#000000"},
      "encoding": {
        "x": {"datum": 0.7, "type": "quantitative", "scale": {"domain": [0, 0.7], "nice": false, "zero": false}, "axis": null},
        "y": {"datum": 0.0572, "type": "quantitative", "scale": {"domain": [-0.0303, 0.0572], "nice": false, "zero": false}, "axis": null}
      }
    }
  ],
  "resolve": {"axis": {"x": "independent", "y": "independent"}},
  "config": {"view": {"stroke": null}, "font": "DejaVu Sans"}
}
